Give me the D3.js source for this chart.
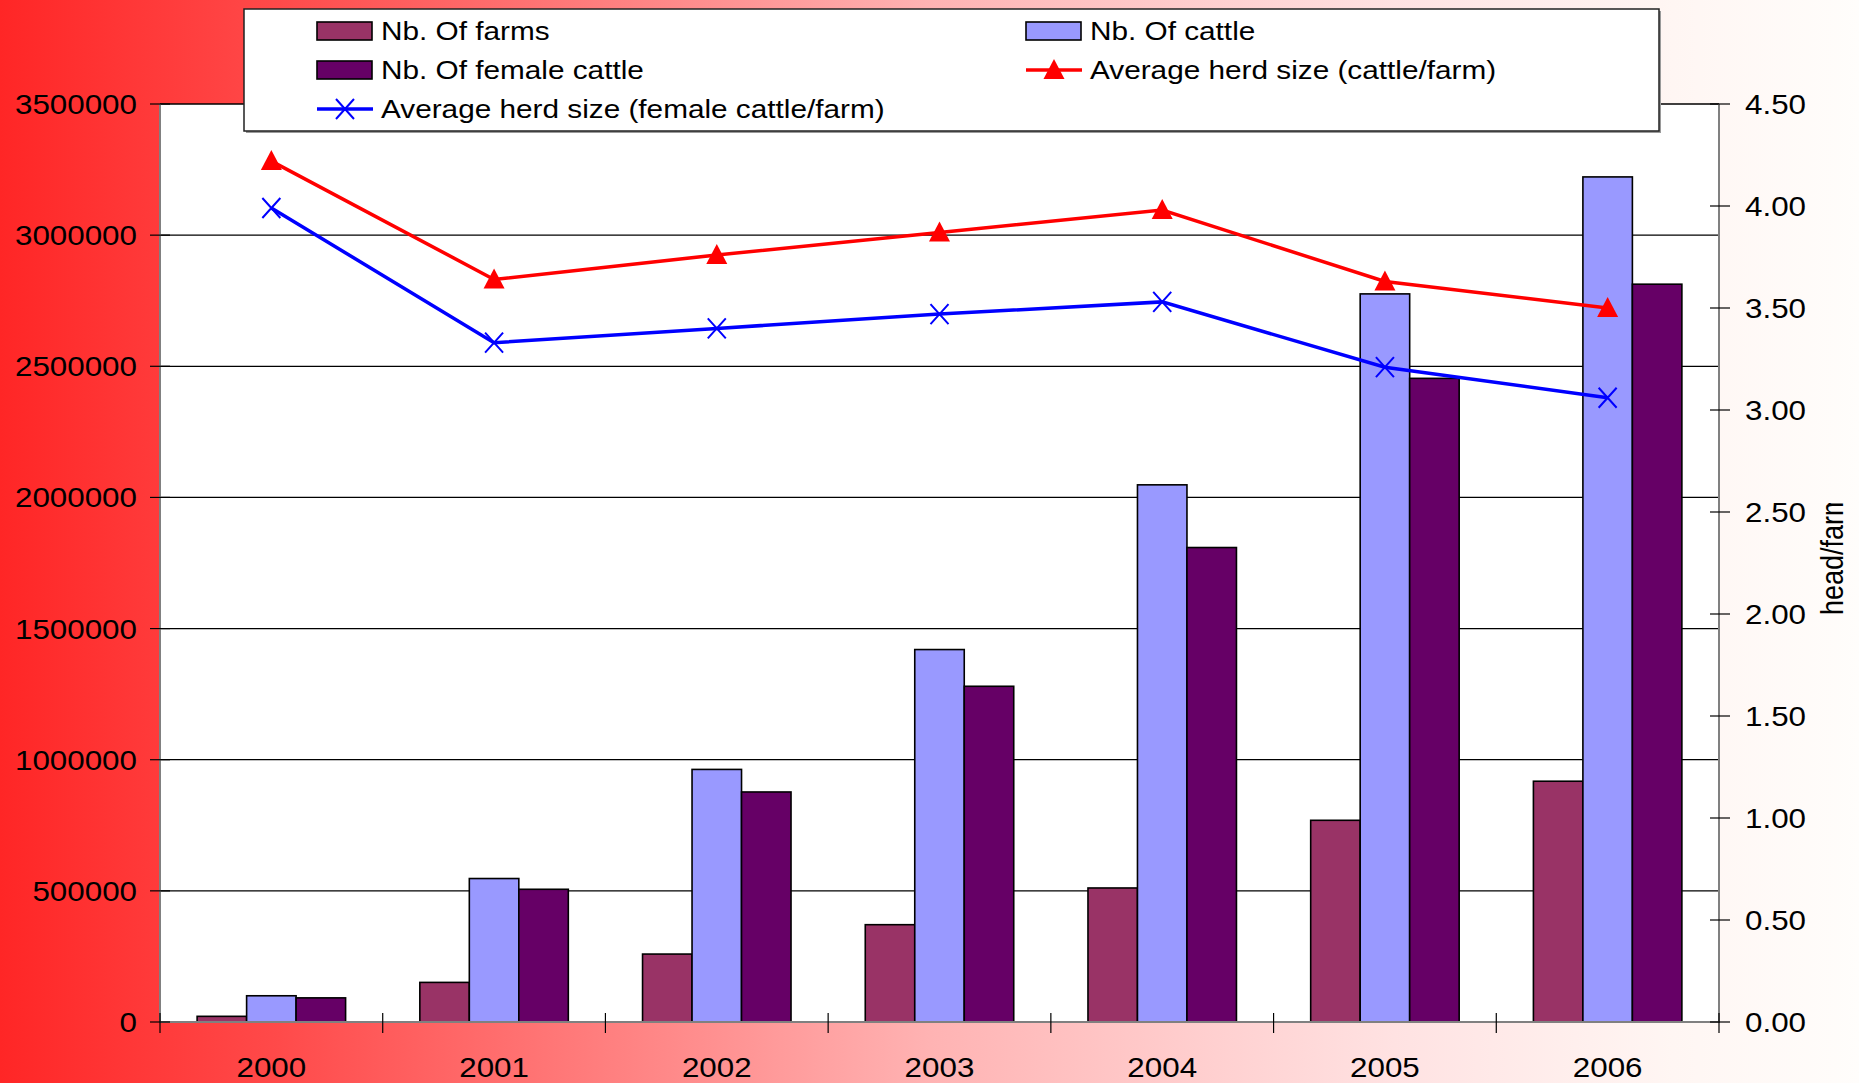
<!DOCTYPE html>
<html><head><meta charset="utf-8">
<script src="https://cdn.jsdelivr.net/npm/d3@7"></script>
<style>body{margin:0;overflow:hidden;background:#fff}</style></head>
<body><svg id="c" width="1859" height="1083"></svg>
<script>
const years = ["2000","2001","2002","2003","2004","2005","2006"];
const farms = [21600, 151000, 259000, 371000, 511000, 769000, 918000];
const cattle = [100000, 547000, 963000, 1420000, 2048000, 2776000, 3222000];
const femaleCattle = [92000, 506000, 877000, 1280000, 1809000, 2454000, 2813000];
const herdCattle = [4.22, 3.64, 3.76, 3.87, 3.98, 3.63, 3.50];
const herdFemale = [3.99, 3.33, 3.40, 3.47, 3.53, 3.21, 3.06];
const leftTicks = [0, 500000, 1000000, 1500000, 2000000, 2500000, 3000000, 3500000];
const rightTicks = [0, 0.5, 1, 1.5, 2, 2.5, 3, 3.5, 4, 4.5];
const barSeries = [
  {name: "Nb. Of farms", values: farms, color: "#993366"},
  {name: "Nb. Of cattle", values: cattle, color: "#9999FF"},
  {name: "Nb. Of female cattle", values: femaleCattle, color: "#660066"}
];

const W = 1859, H = 1083;
const L = 160, R = 1719, T = 104, B = 1022;
const svg = d3.select("#c");
const defs = svg.append("defs");
const grad = defs.append("linearGradient").attr("id","bg").attr("x1","0").attr("x2","1").attr("y1","0").attr("y2","0");
[[0,"#ff2626"],[0.15,"#ff4a4a"],[0.5,"#ffb3b3"],[0.75,"#ffe2e2"],[0.9,"#fff6f3"],[1,"#fffdfb"]]
  .forEach(([o,c]) => grad.append("stop").attr("offset",o).attr("stop-color",c));
defs.append("clipPath").attr("id","tclip").append("rect").attr("x",1780).attr("y",503).attr("width",79).attr("height",200);

svg.append("rect").attr("width",W).attr("height",H).attr("fill","url(#bg)");
svg.append("rect").attr("x",L).attr("y",T).attr("width",R-L).attr("height",B-T).attr("fill","#fff");

const x0 = d3.scaleBand().domain(years).range([L,R]).paddingInner(0).paddingOuter(0);
const bw = x0.bandwidth();
const x1 = d3.scaleBand().domain(barSeries.map(s=>s.name)).range([bw/6, bw*5/6]).padding(0);
const yL = d3.scaleLinear().domain([0,3500000]).range([B,T]);
const yR = d3.scaleLinear().domain([0,4.5]).range([B,T]);

const font = "'Liberation Sans', Arial, sans-serif";
function stext(g, x, y, str, size, sx, anchor, baseline) {
  return g.append("text").attr("transform",`translate(${x},${y}) scale(${sx},1)`)
    .attr("text-anchor",anchor).attr("dominant-baseline",baseline||"auto")
    .attr("font-family",font).attr("font-size",size).attr("fill","#000").text(str);
}

// gridlines
svg.append("g").selectAll("line").data(leftTicks.filter(d=>d>0)).join("line")
  .attr("x1",L).attr("x2",R).attr("y1",d=>yL(d)).attr("y2",d=>yL(d))
  .attr("stroke","#000").attr("stroke-width",1.3);

// bars
const gb = svg.append("g");
years.forEach((yr,i) => {
  barSeries.forEach(s => {
    gb.append("rect").attr("x",x0(yr)+x1(s.name)).attr("width",x1.bandwidth())
      .attr("y",yL(s.values[i])).attr("height",B-yL(s.values[i]))
      .attr("fill",s.color).attr("stroke","#000").attr("stroke-width",1.6);
  });
});

// axes lines
svg.append("line").attr("x1",L).attr("x2",L).attr("y1",T).attr("y2",B+1).attr("stroke","#808080").attr("stroke-width",2);
svg.append("line").attr("x1",R).attr("x2",R).attr("y1",T).attr("y2",B+1).attr("stroke","#808080").attr("stroke-width",2);
svg.append("line").attr("x1",L).attr("x2",R).attr("y1",B).attr("y2",B).attr("stroke","#808080").attr("stroke-width",2);

// left ticks & labels
const gl = svg.append("g");
leftTicks.forEach(t => {
  gl.append("line").attr("x1",L-10).attr("x2",L+10).attr("y1",yL(t)).attr("y2",yL(t)).attr("stroke","#000").attr("stroke-width",1.2);
  stext(gl, 137, yL(t)+10, String(t), 28, 1.12, "end");
});
// right ticks & labels
const gr = svg.append("g");
rightTicks.forEach(t => {
  gr.append("line").attr("x1",R-9).attr("x2",R+11).attr("y1",yR(t)).attr("y2",yR(t)).attr("stroke","#000").attr("stroke-width",1.2);
  stext(gr, 1745, yR(t)+10, t.toFixed(2), 28, 1.12, "start");
});
// category ticks & labels
const gc = svg.append("g");
years.concat(["end"]).forEach((yr,i) => {
  const xx = L + i*bw;
  gc.append("line").attr("x1",xx).attr("x2",xx).attr("y1",B-9).attr("y2",B+11).attr("stroke","#000").attr("stroke-width",1.2);
});
years.forEach(yr => stext(gc, x0(yr)+bw/2, 1077, yr, 28, 1.12, "middle"));

// axis title
svg.append("g").attr("clip-path","url(#tclip)")
  .append("text").attr("transform","translate(1843,615) scale(1.15,1) rotate(-90)")
  .attr("font-family",font).attr("font-size",27).attr("fill","#000").text("head/farm");

// lines
const cx = yr => x0(yr)+bw/2;
const lineR = d3.line().x((d,i)=>cx(years[i])).y(d=>yR(d));
svg.append("path").attr("d",lineR(herdCattle)).attr("fill","none").attr("stroke","#ff0000").attr("stroke-width",3.5);
svg.append("path").attr("d",lineR(herdFemale)).attr("fill","none").attr("stroke","#0000ff").attr("stroke-width",3.5);
const tri = d3.symbol().type(d3.symbolTriangle).size(190);
function triangle(g, x, y) {
  g.append("path").attr("d","M0,-11L10.5,9L-10.5,9Z").attr("transform",`translate(${x},${y})`).attr("fill","#ff0000");
}
function cross(g, x, y) {
  g.append("path").attr("d","M-9,-10L9,10M-9,10L9,-10").attr("transform",`translate(${x},${y})`)
    .attr("stroke","#0000ff").attr("stroke-width",2).attr("fill","none");
}
const gm = svg.append("g");
herdCattle.forEach((v,i)=>triangle(gm, cx(years[i]), yR(v)));
herdFemale.forEach((v,i)=>cross(gm, cx(years[i]), yR(v)));

// legend
const lg = svg.append("g");
lg.append("rect").attr("x",246).attr("y",11).attr("width",1415).attr("height",122).attr("fill","#9a9a9a");
lg.append("rect").attr("x",244).attr("y",9).attr("width",1415).attr("height",122).attr("fill","#fff").attr("stroke","#222").attr("stroke-width",1.5);
const legendItems = [
  {name:"Nb. Of farms", type:"bar", color:"#993366", x:317, y:31},
  {name:"Nb. Of cattle", type:"bar", color:"#9999FF", x:1026, y:31},
  {name:"Nb. Of female cattle", type:"bar", color:"#660066", x:317, y:70},
  {name:"Average herd size (cattle/farm)", type:"tri", color:"#ff0000", x:1026, y:70},
  {name:"Average herd size (female cattle/farm)", type:"cross", color:"#0000ff", x:317, y:109}
];
legendItems.forEach(it => {
  if (it.type==="bar") {
    lg.append("rect").attr("x",it.x).attr("y",it.y-9).attr("width",55).attr("height",18)
      .attr("fill",it.color).attr("stroke","#000").attr("stroke-width",1.6);
  } else {
    lg.append("line").attr("x1",it.x).attr("x2",it.x+56).attr("y1",it.y).attr("y2",it.y)
      .attr("stroke",it.color).attr("stroke-width",3.5);
    if (it.type==="tri") triangle(lg, it.x+28, it.y); else cross(lg, it.x+28, it.y);
  }
  stext(lg, it.x+64, it.y+9, it.name, 25, 1.19, "start");
});
</script></body></html>
